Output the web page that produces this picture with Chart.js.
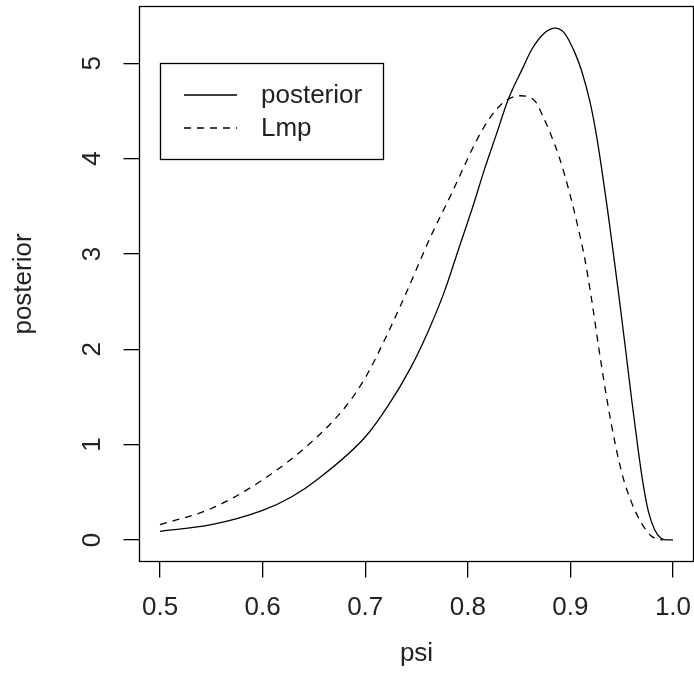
<!DOCTYPE html>
<html>
<head>
<meta charset="utf-8">
<script src="https://cdn.jsdelivr.net/npm/chart.js@4.4.0/dist/chart.umd.min.js"></script>
<style>
  html, body { margin: 0; padding: 0; background: #fff; }
  #wrap { width: 694px; height: 690px; }
</style>
</head>
<body>
<div id="wrap"><canvas id="grafico" width="694" height="690"></canvas></div>
<script>
// ======== Dados ========
const psiPosterior = [0.50, 0.55, 0.60, 0.628, 0.654, 0.70, 0.723, 0.744, 0.761, 0.777, 0.791, 0.805,
  0.816, 0.828, 0.839, 0.854, 0.862, 0.875, 0.885, 0.894, 0.904, 0.911, 0.919, 0.925, 0.930,
  0.936, 0.941, 0.948, 0.954, 0.960, 0.966, 0.971, 0.976, 0.982, 0.988, 0.993, 1.00];
const valPosterior = [0.09, 0.16, 0.31, 0.45, 0.64, 1.08, 1.42, 1.80, 2.18, 2.60, 3.05, 3.50,
  3.88, 4.26, 4.61, 4.96, 5.14, 5.32, 5.37, 5.32, 5.12, 4.92, 4.60, 4.27, 3.93,
  3.48, 3.08, 2.50, 1.98, 1.45, 0.95, 0.58, 0.30, 0.11, 0.02, 0.00, 0.00];

const psiLmp = [0.50, 0.55, 0.60, 0.65, 0.681, 0.70, 0.719, 0.737, 0.765, 0.784, 0.796,
  0.808, 0.821, 0.836, 0.851, 0.865, 0.873, 0.881, 0.889, 0.899, 0.907, 0.914, 0.921, 0.928,
  0.936, 0.945, 0.952, 0.959, 0.966, 0.972, 0.978, 0.984, 0.990];
const valLmp = [0.16, 0.33, 0.63, 1.05, 1.40, 1.70, 2.10, 2.52, 3.21, 3.63, 3.91,
  4.18, 4.42, 4.60, 4.66, 4.61, 4.45, 4.25, 4.02, 3.65, 3.30, 2.95, 2.50, 1.99,
  1.45, 0.94, 0.63, 0.41, 0.24, 0.13, 0.05, 0.01, 0.00];

const xTicks = [0.5, 0.6, 0.7, 0.8, 0.9, 1.0];
const yTicks = [0, 1, 2, 3, 4, 5];
const nomesSeries = ['posterior', 'Lmp'];

const fonte = '"Liberation Sans", Arial, sans-serif';
const tamFonte = 26;

// junta x e y em pontos
function pontos(xs, ys) {
  return xs.map((x, i) => ({ x: x, y: ys[i] }));
}

// ======== Plugin: caixa do gráfico, rótulos do eixo y e legenda ========
const pluginEstiloR = {
  id: 'estiloR',
  afterDraw(chart) {
    const ctx = chart.ctx;
    const area = chart.chartArea;
    ctx.save();
    ctx.strokeStyle = '#000';
    ctx.lineWidth = 1.3;
    ctx.strokeRect(area.left, area.top, area.right - area.left, area.bottom - area.top);

    // rótulos do eixo y girados (como no R)
    const escalaY = chart.scales.y;
    ctx.fillStyle = '#222';
    ctx.font = tamFonte + 'px ' + fonte;
    ctx.textAlign = 'center';
    ctx.textBaseline = 'alphabetic';
    yTicks.forEach((v) => {
      const py = escalaY.getPixelForValue(v);
      ctx.save();
      ctx.translate(100, py);
      ctx.rotate(-Math.PI / 2);
      ctx.fillText(String(v), 0, 0);
      ctx.restore();
    });

    // legenda
    const caixa = { x: 160.5, y: 63.5, w: 223, h: 96 };
    ctx.lineWidth = 1.3;
    ctx.strokeRect(caixa.x, caixa.y, caixa.w, caixa.h);
    ctx.textAlign = 'left';
    ctx.textBaseline = 'middle';
    chart.data.datasets.forEach((ds, i) => {
      const ly = 95 + i * 33;
      ctx.beginPath();
      ctx.setLineDash(ds.borderDash || []);
      ctx.lineWidth = ds.borderWidth;
      ctx.moveTo(184, ly);
      ctx.lineTo(237, ly);
      ctx.stroke();
      ctx.setLineDash([]);
      ctx.fillText(ds.label, 261, ly + 1);
    });
    ctx.restore();
  },
};

const ctx = document.getElementById('grafico').getContext('2d');
new Chart(ctx, {
  type: 'line',
  data: {
    datasets: [
      {
        label: nomesSeries[0],
        data: pontos(psiPosterior, valPosterior),
        borderColor: '#000',
        borderWidth: 1.3,
        pointRadius: 0,
        cubicInterpolationMode: 'monotone',
        fill: false,
      },
      {
        label: nomesSeries[1],
        data: pontos(psiLmp, valLmp),
        borderColor: '#000',
        borderWidth: 1.3,
        borderDash: [7, 6],
        pointRadius: 0,
        cubicInterpolationMode: 'monotone',
        fill: false,
      },
    ],
  },
  options: {
    responsive: false,
    devicePixelRatio: 1,
    animation: false,
    layout: { padding: { top: 6.5, right: 0.5, left: 0, bottom: 0 } },
    plugins: {
      legend: { display: false },
      tooltip: { enabled: false },
    },
    scales: {
      x: {
        type: 'linear',
        min: 0.48,
        max: 1.02,
        afterBuildTicks: (s) => { s.ticks = xTicks.map((v) => ({ value: v })); },
        afterFit: (s) => {
          s.height = 128.5;
          // o R deixa o rótulo 1.0 encostar na borda
          s.paddingLeft = 0;
          s.paddingRight = 0;
        },
        ticks: {
          color: '#222',
          font: { family: fonte, size: tamFonte },
          padding: 15,
          maxRotation: 0,
          callback: (v) => Number(v).toFixed(1),
        },
        grid: { drawOnChartArea: false, drawTicks: true, tickLength: 16, color: '#000', lineWidth: 1.3 },
        border: { display: false },
        title: {
          display: true,
          text: 'psi',
          color: '#222',
          font: { family: fonte, size: tamFonte },
          padding: { top: 0, bottom: 21 },
        },
      },
      y: {
        type: 'linear',
        min: -0.226,
        max: 5.596,
        afterBuildTicks: (s) => { s.ticks = yTicks.map((v) => ({ value: v })); },
        afterFit: (s) => {
          s.width = 139.5;
          s.paddingTop = 0;
          s.paddingBottom = 0;
        },
        ticks: { display: false },
        grid: { drawOnChartArea: false, drawTicks: true, tickLength: 16, color: '#000', lineWidth: 1.3 },
        border: { display: false },
        title: {
          display: true,
          text: 'posterior',
          color: '#222',
          font: { family: fonte, size: tamFonte },
          padding: { top: 8, bottom: 0 },
        },
      },
    },
  },
  plugins: [pluginEstiloR],
});
</script>
</body>
</html>
